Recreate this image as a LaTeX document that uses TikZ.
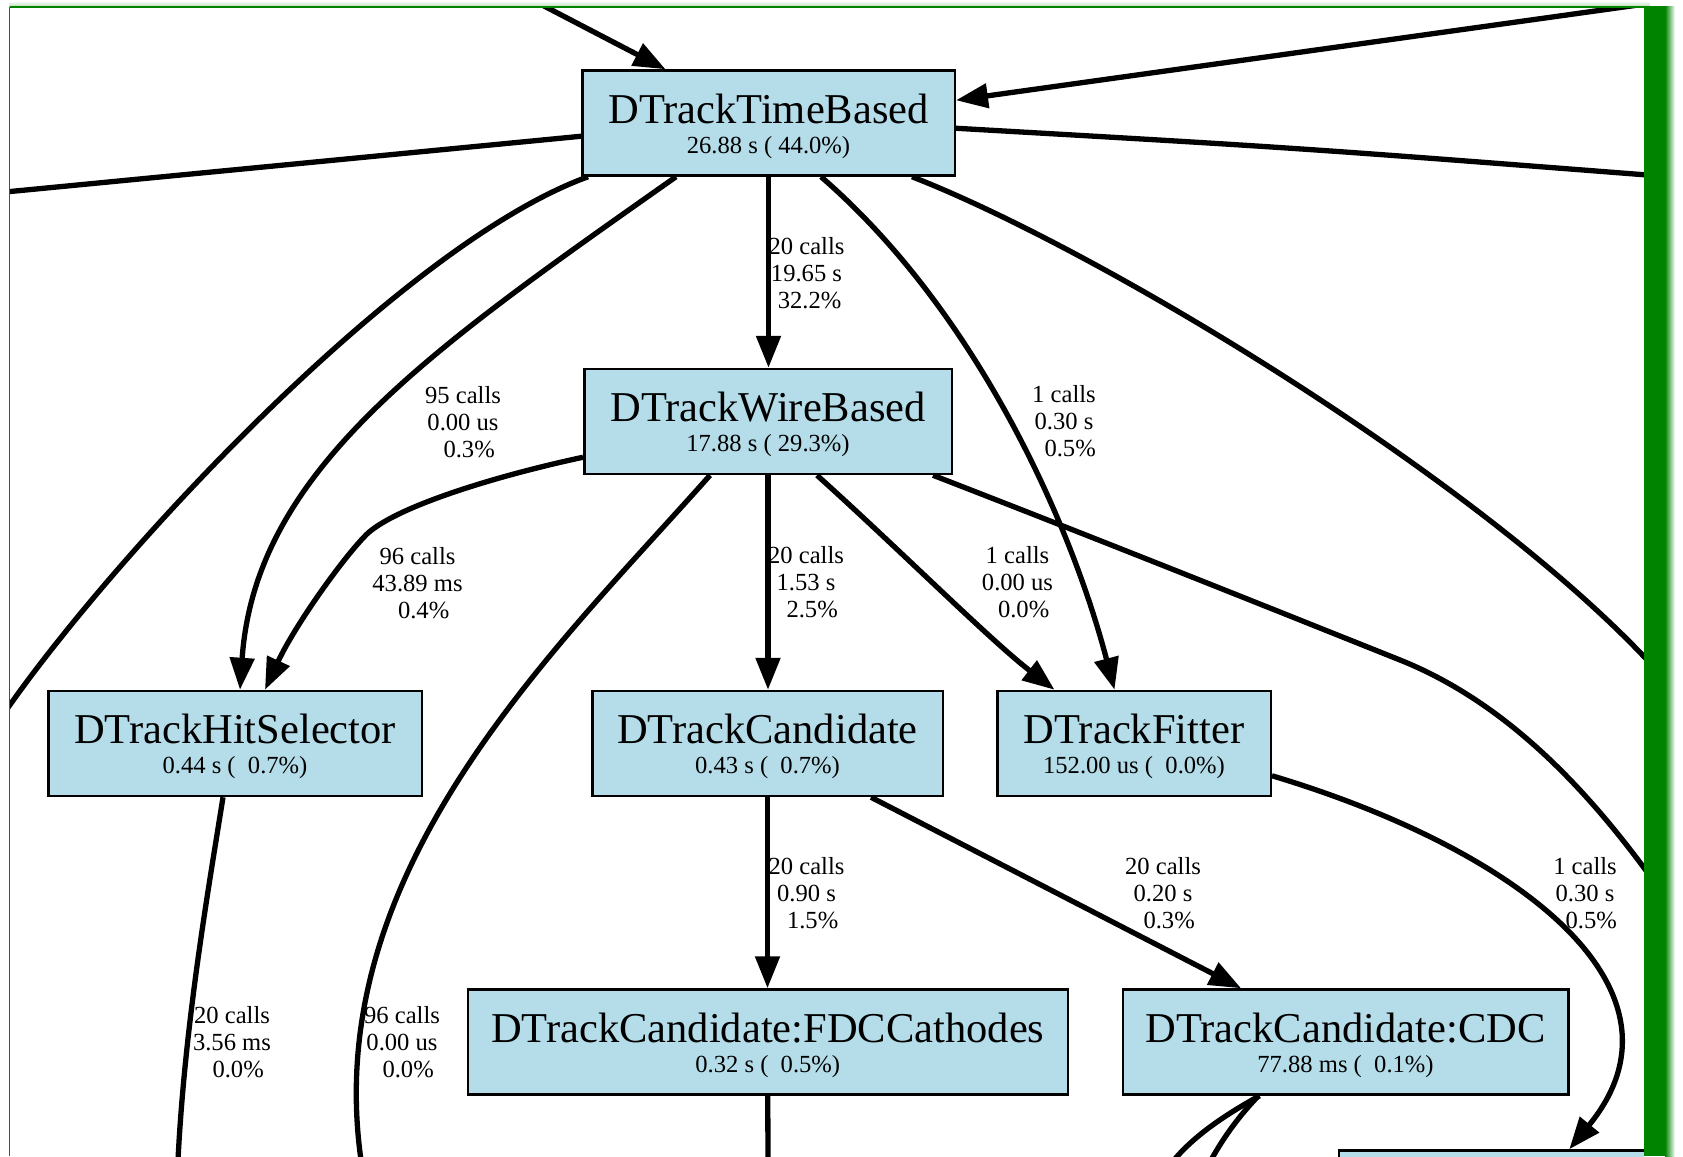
\documentclass[tikz,border=0pt]{standalone}
\usepackage{fontspec}
\setmainfont{Liberation Serif}
\usetikzlibrary{arrows.meta,calc}
\definecolor{nodefill}{RGB}{181,221,233}
\definecolor{framegreen}{RGB}{0,132,0}
% three centred lines of an edge label; the node's base is the first baseline
\newcommand\edgetext[3]{\vtop{\baselineskip=27pt\lineskiplimit=-100pt\halign{\hfil##\hfil\cr#1\cr#2\cr#3\cr}}}

\begin{document}
\begin{tikzpicture}[x=1pt, y=-1pt,
  fn/.style={rectangle, draw=black, line width=2.5pt, fill=nodefill, minimum height=105pt, inner sep=0pt},
  ttl/.style={anchor=base, inner sep=0pt, font=\fontsize{42.5}{48}\selectfont},
  sub/.style={anchor=base, inner sep=0pt, font=\fontsize{24.6}{27}\selectfont},
  elab/.style={anchor=base, inner sep=0pt, font=\fontsize{24.6}{27}\selectfont},
  call/.style={line width=5.3pt, -{Triangle[length=32pt,width=24pt]}},
  wire/.style={line width=5.3pt}]

\useasboundingbox (0,0) rectangle (1683,1156);
\fill[white] (0,0) rectangle (1683,1156);

\begin{scope}
\clip (10,8) rectangle (1644,1156);

% ---- factory nodes ----
\node[fn, minimum width=372.5pt] (tb) at (768.5,123) {};
\node[ttl] (tbT) at (tb.center) {DTrackTimeBased};
\node[sub] (tbS) at ($(tb.center)+(0,30)$) {26.88 s ( 44.0\%)};

\node[fn, minimum width=367.5pt] (wb) at (768,421.5) {};
\node[ttl] (wbT) at (wb.center) {DTrackWireBased};
\node[sub] (wbS) at ($(wb.center)+(0,30)$) {17.88 s ( 29.3\%)};

\node[fn, minimum width=373.5pt] (hs) at (235,743.5) {};
\node[ttl] (hsT) at (hs.center) {DTrackHitSelector};
\node[sub] (hsS) at ($(hs.center)+(0,30)$) {0.44 s (\ \ 0.7\%)};

\node[fn, minimum width=350.5pt] (cand) at (767.5,743.5) {};
\node[ttl] (candT) at (cand.center) {DTrackCandidate};
\node[sub] (candS) at ($(cand.center)+(0,30)$) {0.43 s (\ \ 0.7\%)};

\node[fn, minimum width=273.5pt] (fit) at (1134,743.5) {};
\node[ttl] (fitT) at (fit.center) {DTrackFitter};
\node[sub] (fitS) at ($(fit.center)+(0,30)$) {152.00 us (\ \ 0.0\%)};

\node[fn, minimum width=600pt] (fdc) at (767.75,1042) {};
\node[ttl] (fdcT) at (fdc.center) {DTrackCandidate:FDCCathodes};
\node[sub] (fdcS) at ($(fdc.center)+(0,30)$) {0.32 s (\ \ 0.5\%)};

\node[fn, minimum width=445.5pt] (cdc) at (1345.5,1042) {};
\node[ttl] (cdcT) at (cdc.center) {DTrackCandidate:CDC};
\node[sub] (cdcS) at ($(cdc.center)+(0,30)$) {77.88 ms (\ \ 0.1\%)};

\node[fn, minimum width=400pt] (br) at (1539,1203) {};

% ---- free ends at the border of the view ----
\coordinate (inA) at (532.5,0);
\coordinate (inB) at (1674,0);
\coordinate (outL1) at (0,192.5);
\coordinate (outR1) at (1660,176);
\coordinate (outL2) at (5,712);
\coordinate (outR2) at (1650,663);
\coordinate (outR3) at (1650,876);
\coordinate (outB1) at (178,1160);
\coordinate (outB2) at (361,1160);
\coordinate (outB3) at (768,1160);
\coordinate (outB4) at (1174,1160);
\coordinate (outB5) at (1211,1160);

% ---- connectors ----
\draw[call] (inA) -- ($(tb.north west)+(84.5,0)$);
\draw[call] (inB) -- ($(tb.north east)+(0,31)$);
\draw[wire] ($(tb.north west)+(0,67)$) -- (outL1);
\draw[wire] ($(tb.north east)+(0,59)$) .. controls (1300,148) .. (outR1);
\draw[wire] ($(tb.south west)+(7,0)$) .. controls (400,245) and (110,560) .. (outL2);
\draw[call] ($(tb.south west)+(95,0)$) .. controls (430,350) and (255,470) .. ($(hs.north west)+(193,0)$);
\draw[call] (tb.south) -- (tb.south |- wb.north);
\draw[call] ($(tb.south west)+(240,0)$) .. controls (975,310) and (1070,520) .. ($(fit.north west)+(118.5,0)$);
\draw[wire] ($(tb.south west)+(331,0)$) .. controls (1100,250) and (1480,480) .. (outR2);

\draw[call] ($(wb.south west)+(0,-18)$) .. controls (500,475) and (400,505) .. (368,533)
   .. controls (345,555) and (295,625) .. ($(hs.north west)+(218,0)$);
\draw[wire] ($(wb.south west)+(127,0)$) .. controls (555,650) and (320,870) .. (outB2);
\draw[call] (wb.south) -- (wb.south |- cand.north);
\draw[call] ($(wb.south west)+(234,0)$) .. controls (900,550) and (990,640) .. ($(fit.north west)+(58.5,0)$);
\draw[wire] ($(wb.south east)+(-20,0)$) .. controls (1100,540) and (1250,600) .. (1400,660)
   .. controls (1500,700) and (1580,780) .. (outR3);

\draw[wire] ($(hs.south west)+(176,0)$) .. controls (210,880) and (185,1020) .. (outB1);
\draw[call] (cand.south) -- (cand.south |- fdc.north);
\draw[call] ($(cand.south west)+(280,0)$) -- ($(cdc.north west)+(119.6,0)$);
\draw[call] ($(fit.north east)+(0,86)$) .. controls (1520,850) and (1700,990) .. ($(br.north west)+(231.5,0)$);
\draw[wire] (fdc.south) -- (outB3);
\draw[wire] ($(cdc.south west)+(138,0)$) .. controls (1225,1115) and (1195,1135) .. (outB4);
\draw[wire] ($(cdc.south west)+(137,0)$) .. controls (1240,1115) and (1225,1135) .. (outB5);

% ---- edge labels ----
\node[elab] (lA) at (463,403) {\edgetext{95 calls}{0.00 us}{\kern0.5em 0.3\%}};
\node[elab] (lB) at (417.5,564.3) {\edgetext{96 calls}{43.89 ms}{\kern0.5em 0.4\%}};
\node[elab] (lC) at (806.5,254) {\edgetext{20 calls}{19.65 s}{\kern0.25em 32.2\%}};
\node[elab] (lD) at (1064,402.7) {\edgetext{1 calls}{0.30 s}{\kern0.5em 0.5\%}};
\node[elab] (lE) at (806,563.3) {\edgetext{20 calls}{1.53 s}{\kern0.5em 2.5\%}};
\node[elab] (lF) at (1017.5,563) {\edgetext{1 calls}{0.00 us}{\kern0.5em 0.0\%}};
\node[elab] (lG) at (806.5,874) {\edgetext{20 calls}{0.90 s}{\kern0.5em 1.5\%}};
\node[elab] (lH) at (1163,874) {\edgetext{20 calls}{0.20 s}{\kern0.5em 0.3\%}};
\node[elab] (lI) at (1585,874) {\edgetext{1 calls}{0.30 s}{\kern0.5em 0.5\%}};
\node[elab] (lJ) at (232,1023.3) {\edgetext{20 calls}{3.56 ms}{\kern0.5em 0.0\%}};
\node[elab] (lK) at (402,1023) {\edgetext{96 calls}{0.00 us}{\kern0.5em 0.0\%}};
\end{scope}

% ---- window frame ----
\shade[top color=white, bottom color=framegreen!30] (9,1) rectangle (1650,7);
\draw[framegreen, line width=2pt] (9.5,7.5) -- (1646,7.5);
\draw[framegreen, line width=1.5pt] (9.5,7.5) -- (9.5,1156);
\fill[framegreen] (1644,6.5) rectangle (1665,1156);
\shade[left color=framegreen, right color=white] (1665,6.5) rectangle (1675,1156);
\end{tikzpicture}
\end{document}
